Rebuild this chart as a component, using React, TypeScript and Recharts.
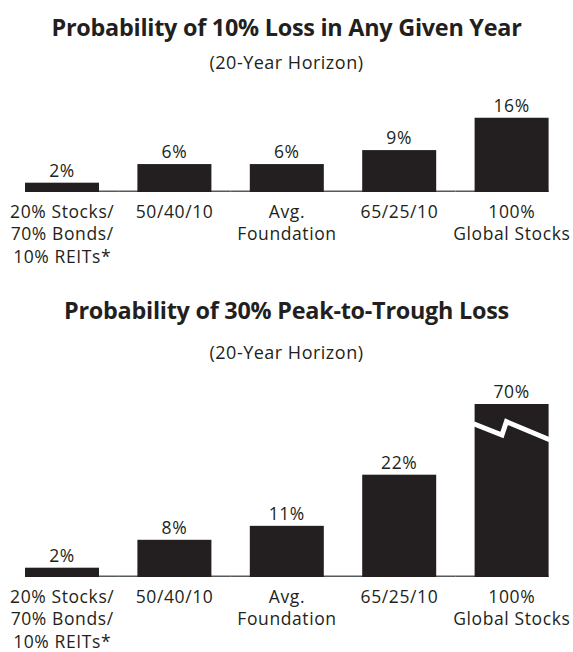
import React from 'react';
import { BarChart, Bar, XAxis, YAxis, LabelList } from 'recharts';

const categories = [
  '20% Stocks/\n70% Bonds/\n10% REITs*',
  '50/40/10',
  'Avg.\nFoundation',
  '65/25/10',
  '100%\nGlobal Stocks',
];
const lossInYear = [2, 6, 6, 9, 16];
const peakToTrough = [2, 8, 11, 22, 70];

const titleTop = 'Probability of 10% Loss in Any Given Year';
const titleBottom = 'Probability of 30% Peak-to-Trough Loss';
const subtitle = '(20-Year Horizon)';

const INK = '#231f20';
const FONT = '"Open Sans", "Noto Sans", sans-serif';
const WIDTH = 573;
const MARGIN_L = 6;
const MARGIN_R = 5;
const BAR = 74;
const STEP = (WIDTH - MARGIN_L - MARGIN_R) / categories.length;
const EXT = (STEP - BAR) / 2;
const LABEL_SIZE = 17.5;
const LABEL_SPACING = 0.6;

const toRows = (values: number[]) =>
  categories.map((name, i) => ({ name, value: values[i] }));

// bar + its piece of the baseline; bars taller than the plot get a break mark
const makeShape = (plotTop: number) => (props: any) => {
  const { x, y, width, height, index } = props;
  const bottom = y + height;
  const top = Math.max(y, plotTop);
  const broken = y < plotTop - 0.5;
  const last = categories.length - 1;
  return (
    <g>
      <line
        x1={x - (index === 0 ? 0 : EXT)}
        x2={x + width + (index === last ? 0 : EXT)}
        y1={bottom - 0.75}
        y2={bottom - 0.75}
        stroke="#58595b"
        strokeWidth={1.5}
      />
      <rect x={x} y={top} width={width} height={bottom - top} fill={INK} />
      {broken && (
        <polyline
          points={`${x - 1},${top + 19.7} ${x + width * 0.37},${top + 31} ${x + width * 0.43},${top + 17.7} ${x + width + 1},${top + 35.7}`}
          fill="none"
          stroke="#fff"
          strokeWidth={5}
          strokeLinejoin="miter"
          strokeMiterlimit={6}
        />
      )}
    </g>
  );
};

const makeLabel = (plotTop: number) => (props: any) => {
  const vb = props.viewBox || props;
  const top = Math.max(vb.y, plotTop);
  return (
    <text
      x={vb.x + vb.width / 2}
      y={top - 6}
      textAnchor="middle"
      fontFamily={FONT}
      fontSize={LABEL_SIZE}
      letterSpacing={LABEL_SPACING}
      fill={INK}
    >
      {`${props.value}%`}
    </text>
  );
};

const CategoryTick = (props: any) => {
  const { x, y, payload } = props;
  const lines = String(payload.value).split('\n');
  return (
    <g>
      {lines.map((line, i) => (
        <text
          key={i}
          x={x}
          y={y + 25.5 + i * 22.6}
          textAnchor="middle"
          fontFamily={FONT}
          fontSize={LABEL_SIZE}
          letterSpacing={LABEL_SPACING}
          fill={INK}
        >
          {line}
        </text>
      ))}
    </g>
  );
};

interface PanelProps {
  values: number[];
  top: number;
  height: number;
  marginTop: number;
  axisHeight: number;
  yMax: number;
}

function Panel({ values, top, height, marginTop, axisHeight, yMax }: PanelProps) {
  return (
    <div style={{ position: 'absolute', left: 0, top }}>
      <BarChart
        width={WIDTH}
        height={height}
        data={toRows(values)}
        margin={{ top: marginTop, right: MARGIN_R, bottom: 8, left: MARGIN_L }}
        barSize={BAR}
      >
        <XAxis
          dataKey="name"
          axisLine={false}
          tickLine={false}
          tickSize={0}
          tickMargin={0}
          interval={0}
          height={axisHeight}
          tick={<CategoryTick />}
        />
        <YAxis hide domain={[0, yMax]} allowDataOverflow />
        <Bar
          dataKey="value"
          isAnimationActive={false}
          shape={makeShape(marginTop)}
        >
          <LabelList dataKey="value" content={makeLabel(marginTop)} />
        </Bar>
      </BarChart>
    </div>
  );
}

const titleStyle: React.CSSProperties = {
  position: 'absolute',
  left: 0,
  width: WIDTH,
  textAlign: 'center',
  fontFamily: FONT,
  color: INK,
  whiteSpace: 'nowrap',
};

const headStyle: React.CSSProperties = {
  ...titleStyle,
  fontSize: 23.4,
  fontWeight: 700,
  lineHeight: '32px',
  letterSpacing: -0.25,
};

const subStyle: React.CSSProperties = {
  ...titleStyle,
  fontSize: 18,
  lineHeight: '26px',
  letterSpacing: 0.5,
};

export default function App() {
  return (
    <div
      style={{
        position: 'absolute',
        left: 0,
        top: 0,
        width: WIDTH,
        height: 652,
        background: '#fff',
        overflow: 'hidden',
      }}
    >
      <div style={{ ...headStyle, top: 11 }}>{titleTop}</div>
      <div style={{ ...subStyle, top: 49 }}>{subtitle}</div>
      <Panel values={lossInYear} top={90} height={180} marginTop={27.5} axisHeight={70} yMax={16} />

      <div style={{ ...headStyle, top: 294 }}>{titleBottom}</div>
      <div style={{ ...subStyle, top: 339 }}>{subtitle}</div>
      <Panel values={peakToTrough} top={380} height={272} marginTop={24} axisHeight={67} yMax={37.2} />
    </div>
  );
}
